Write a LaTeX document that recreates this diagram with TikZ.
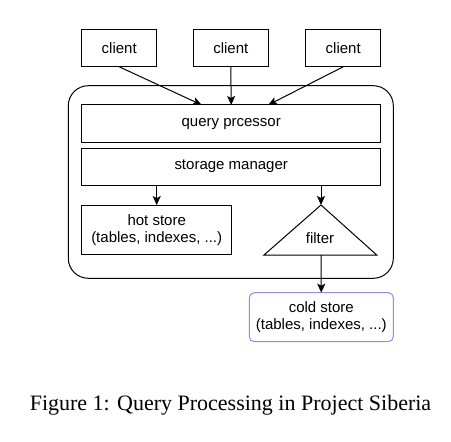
\documentclass[tikz,border=0pt]{standalone}
\usepackage{fontspec}
\setmainfont{Liberation Sans}
\newfontfamily\captionfont{Liberation Serif}
\usetikzlibrary{arrows.meta}
\definecolor{coldblue}{RGB}{140,140,255}
\begin{document}
\begin{tikzpicture}[x=1pt, y=-1pt, line width=1pt,
  font=\fontsize{15}{17}\selectfont,
  every node/.style={inner sep=0pt, outer sep=0pt},
  box/.style={draw, align=center},
  arr/.style={-{Stealth[length=9pt, width=8pt, inset=2pt]}}]
  %% fixed page size
  \useasboundingbox (0,0) rectangle (451,442);
  %% the clients
  \node[box, minimum width=75, minimum height=37] (client1) at (119.2, 48.3) {client};
  \node[box, minimum width=75, minimum height=37] (client2) at (230.8, 48.3) {client};
  \node[box, minimum width=75, minimum height=37] (client3) at (343.2, 48.3) {client};
  %% the system
  \node[draw, rounded corners=20, minimum width=325, minimum height=192.6] (siberia) at (230.8, 182) {};
  \node[box, minimum width=299, minimum height=37.7] (query) at (231.2, 123.8) {query prcessor};
  \node[box, minimum width=299, minimum height=36.7] (storage) at (231.2, 166.7) {storage manager};
  \node[box, minimum width=150, minimum height=49.3] (hot) at (156.7, 229.7) {hot store\\(tables, indexes, ...)};
  % filter triangle
  \coordinate (filtertop) at (321, 205);
  \coordinate (filterbot) at (321, 255);
  \draw[line join=miter] (filtertop) -- (376.7, 255) -- (264, 255) -- cycle;
  \node (filter) at (320, 238.3) {filter};
  %% outside the system
  \node[box, draw=coldblue, rounded corners=5, minimum width=144, minimum height=49] (cold) at (321.3, 317.2) {cold store\\(tables, indexes, ...)};
  %% arrows
  \draw[arr] (client1.south) -- ([xshift=-29.5]query.north);
  \draw[arr] (client2.south) -- (query.north);
  \draw[arr] (client3.south) -- ([xshift=37]query.north);
  \draw[arr] (storage.south -| hot.north) -- (hot.north);
  \draw[arr] (storage.south -| filtertop) -- (filtertop);
  \draw[arr] (filterbot) -- (cold.north);
  %% caption
  \node[font=\captionfont\fontsize{22}{26}\selectfont, anchor=base] (caption) at (230.5, 410) {Figure 1: Query Processing in Project Siberia};
\end{tikzpicture}
\end{document}
